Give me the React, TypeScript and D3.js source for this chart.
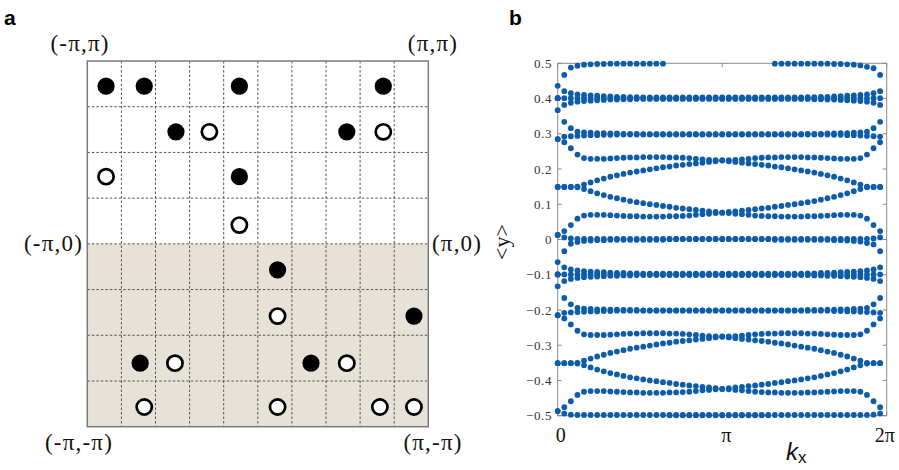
import React from "react";
import * as d3 from "d3";

// ---------- Panel a data (grid-cell units: col 0..10 from left, row 0..8 from top) ----------
const GRID_COLS = 10;
const GRID_ROWS = 8;
const FILLED_PTS: [number, number][] = [
  [0.55, 0.55], [1.67, 0.55], [4.46, 0.55], [8.68, 0.55],
  [2.6, 1.55], [7.61, 1.55],
  [4.46, 2.53],
  [5.58, 4.57],
  [9.58, 5.58],
  [1.55, 6.61], [6.56, 6.61],
];
const OPEN_PTS: [number, number][] = [
  [3.58, 1.55], [8.68, 1.55],
  [0.55, 2.53],
  [4.46, 3.59],
  [5.58, 5.58],
  [2.57, 6.61], [7.61, 6.61],
  [1.67, 7.57], [5.58, 7.57], [8.58, 7.57], [9.58, 7.57],
];
const CORNER_TL = "(-π,π)";
const CORNER_TR = "(π,π)";
const CORNER_ML = "(-π,0)";
const CORNER_MR = "(π,0)";
const CORNER_BL = "(-π,-π)";
const CORNER_BR = "(π,-π)";

// ---------- Panel b data ----------
const K_COUNT = 50; // k index 0..49 ; 50 == 2π
const X_TICKS = [0, 25, 50];
const X_TICK_LABELS = ["0", "π", "2π"];
const Y_TICKS = [0.5, 0.4, 0.3, 0.2, 0.1, 0, -0.1, -0.2, -0.3, -0.4, -0.5];

const A_UP = [
  0.436, 0.467, 0.488, 0.493, 0.496, 0.497, 0.498, 0.498, 0.499, 0.499,
  0.499, 0.499, 0.499, 0.499, 0.499, 0.499, 0.499, -0.499, -0.499, -0.499,
  -0.499, -0.499, -0.499, -0.499, -0.499, -0.499, -0.499, -0.499, -0.499, -0.499,
  -0.499, -0.499, -0.499, 0.499, 0.499, 0.499, 0.499, 0.499, 0.499, 0.499,
  0.499, 0.499, 0.498, 0.498, 0.497, 0.496, 0.494, 0.49, 0.486, 0.467,
];
const P1_UP = [
  0.401, 0.421, 0.415, 0.412, 0.41, 0.409, 0.408, 0.407, 0.406, 0.405,
  0.405, 0.404, 0.404, 0.403, 0.403, 0.403, 0.403, 0.403, 0.403, 0.403,
  0.403, 0.403, 0.403, 0.403, 0.403, 0.403, 0.403, 0.403, 0.403, 0.403,
  0.403, 0.403, 0.403, 0.403, 0.403, 0.403, 0.403, 0.403, 0.404, 0.404,
  0.405, 0.405, 0.406, 0.407, 0.408, 0.409, 0.41, 0.412, 0.415, 0.421,
];
const P2_UP = [
  0.401, 0.401, 0.401, 0.401, 0.401, 0.401, 0.401, 0.401, 0.401, 0.401,
  0.401, 0.401, 0.401, 0.401, 0.401, 0.401, 0.401, 0.401, 0.401, 0.401,
  0.401, 0.401, 0.401, 0.401, 0.401, 0.401, 0.401, 0.401, 0.401, 0.401,
  0.401, 0.401, 0.401, 0.401, 0.401, 0.401, 0.401, 0.401, 0.401, 0.401,
  0.401, 0.401, 0.401, 0.401, 0.401, 0.401, 0.401, 0.401, 0.401, 0.401,
];
const P3_UP = [
  0.401, 0.382, 0.388, 0.391, 0.393, 0.394, 0.395, 0.396, 0.397, 0.397,
  0.398, 0.398, 0.399, 0.399, 0.399, 0.399, 0.399, 0.399, 0.399, 0.399,
  0.399, 0.399, 0.399, 0.399, 0.399, 0.399, 0.399, 0.399, 0.399, 0.399,
  0.399, 0.399, 0.399, 0.399, 0.399, 0.399, 0.399, 0.399, 0.399, 0.398,
  0.398, 0.397, 0.397, 0.396, 0.395, 0.394, 0.393, 0.391, 0.388, 0.382,
];
const D_UP = [
  0.367, 0.334, 0.316, 0.306, 0.304, 0.303, 0.302, 0.302, 0.301, 0.301,
  0.3, 0.3, 0.3, 0.299, 0.299, 0.299, 0.299, 0.299, 0.299, 0.299,
  0.299, 0.299, 0.299, 0.299, 0.299, 0.299, 0.299, 0.299, 0.299, 0.299,
  0.299, 0.299, 0.299, 0.299, 0.299, 0.299, 0.299, 0.299, 0.3, 0.3,
  0.3, 0.301, 0.301, 0.302, 0.302, 0.303, 0.304, 0.306, 0.316, 0.334,
];
const Q_UP = [
  0.285, 0.292, 0.293, 0.294, 0.295, 0.296, 0.296, 0.297, 0.297, 0.298,
  0.298, 0.298, 0.298, 0.298, 0.298, 0.298, 0.298, 0.298, 0.298, 0.298,
  0.298, 0.298, 0.298, 0.298, 0.298, 0.298, 0.298, 0.298, 0.298, 0.298,
  0.298, 0.298, 0.298, 0.298, 0.298, 0.298, 0.298, 0.298, 0.298, 0.298,
  0.298, 0.298, 0.297, 0.297, 0.296, 0.296, 0.295, 0.294, 0.293, 0.292,
];
const C1_UP = [
  0.285, 0.276, 0.259, 0.241, 0.231, 0.229, 0.229, 0.229, 0.23, 0.231,
  0.232, 0.233, 0.233, 0.234, 0.234, 0.234, 0.234, 0.233, 0.233, 0.232,
  0.231, 0.229, 0.227, 0.226, 0.225, 0.225, 0.225, 0.226, 0.227, 0.229,
  0.231, 0.232, 0.233, 0.233, 0.234, 0.234, 0.234, 0.234, 0.233, 0.233,
  0.232, 0.231, 0.23, 0.229, 0.229, 0.229, 0.231, 0.241, 0.259, 0.276,
];
const R_UP = [
  0.149, 0.149, 0.149, 0.15, 0.156, 0.162, 0.168, 0.173, 0.178, 0.182,
  0.186, 0.19, 0.193, 0.196, 0.199, 0.202, 0.205, 0.207, 0.21, 0.212,
  0.214, 0.216, 0.218, 0.22, 0.222, 0.224, 0.222, 0.22, 0.218, 0.216,
  0.214, 0.212, 0.21, 0.207, 0.205, 0.202, 0.199, 0.196, 0.193, 0.19,
  0.186, 0.182, 0.178, 0.173, 0.168, 0.162, 0.156, 0.15, 0.149, 0.149,
];
const F_UP = [
  0.149, 0.149, 0.149, 0.148, 0.143, 0.137, 0.131, 0.126, 0.121, 0.117,
  0.113, 0.109, 0.106, 0.103, 0.1, 0.098, 0.095, 0.093, 0.09, 0.088,
  0.086, 0.084, 0.082, 0.08, 0.078, 0.076, 0.078, 0.08, 0.082, 0.084,
  0.086, 0.088, 0.09, 0.093, 0.095, 0.098, 0.1, 0.103, 0.106, 0.109,
  0.113, 0.117, 0.121, 0.126, 0.131, 0.137, 0.143, 0.148, 0.149, 0.149,
];
const C4_UP = [
  0.013, 0.024, 0.041, 0.059, 0.068, 0.07, 0.07, 0.07, 0.069, 0.068,
  0.067, 0.066, 0.066, 0.065, 0.065, 0.065, 0.065, 0.066, 0.066, 0.067,
  0.068, 0.07, 0.072, 0.073, 0.075, 0.076, 0.075, 0.073, 0.072, 0.07,
  0.068, 0.067, 0.066, 0.066, 0.065, 0.065, 0.065, 0.065, 0.066, 0.066,
  0.067, 0.068, 0.069, 0.07, 0.07, 0.07, 0.068, 0.059, 0.041, 0.024,
];
const Z_UP = [
  0.013, 0.006, 0.003, 0.002, 0.002, 0.002, 0.002, 0.002, 0.002, 0.002,
  0.002, 0.002, 0.002, 0.002, 0.002, 0.002, 0.002, 0.002, 0.002, 0.002,
  0.002, 0.002, 0.002, 0.002, 0.002, 0.002, 0.002, 0.002, 0.002, 0.002,
  0.002, 0.002, 0.002, 0.002, 0.002, 0.002, 0.002, 0.002, 0.002, 0.002,
  0.002, 0.002, 0.002, 0.002, 0.002, 0.002, 0.002, 0.002, 0.003, 0.006,
];

const A_LO = [
  -0.064, -0.033, -0.012, -0.007, -0.004, -0.003, -0.002, -0.002, -0.001, -0.001,
  -0.001, -0.001, -0.001, -0.001, -0.001, -0.001, -0.001, 0.001, 0.001, 0.001,
  0.001, 0.001, 0.001, 0.001, 0.001, 0.001, 0.001, 0.001, 0.001, 0.001,
  0.001, 0.001, 0.001, -0.001, -0.001, -0.001, -0.001, -0.001, -0.001, -0.001,
  -0.001, -0.001, -0.002, -0.002, -0.003, -0.004, -0.006, -0.01, -0.014, -0.033,
];
const P1_LO = [
  -0.099, -0.079, -0.085, -0.088, -0.09, -0.091, -0.092, -0.093, -0.094, -0.095,
  -0.095, -0.096, -0.096, -0.097, -0.097, -0.097, -0.097, -0.097, -0.097, -0.097,
  -0.097, -0.097, -0.097, -0.097, -0.097, -0.097, -0.097, -0.097, -0.097, -0.097,
  -0.097, -0.097, -0.097, -0.097, -0.097, -0.097, -0.097, -0.097, -0.096, -0.096,
  -0.095, -0.095, -0.094, -0.093, -0.092, -0.091, -0.09, -0.088, -0.085, -0.079,
];
const P2_LO = [
  -0.099, -0.099, -0.099, -0.099, -0.099, -0.099, -0.099, -0.099, -0.099, -0.099,
  -0.099, -0.099, -0.099, -0.099, -0.099, -0.099, -0.099, -0.099, -0.099, -0.099,
  -0.099, -0.099, -0.099, -0.099, -0.099, -0.099, -0.099, -0.099, -0.099, -0.099,
  -0.099, -0.099, -0.099, -0.099, -0.099, -0.099, -0.099, -0.099, -0.099, -0.099,
  -0.099, -0.099, -0.099, -0.099, -0.099, -0.099, -0.099, -0.099, -0.099, -0.099,
];
const P3_LO = [
  -0.099, -0.118, -0.112, -0.109, -0.107, -0.106, -0.105, -0.104, -0.103, -0.103,
  -0.102, -0.102, -0.101, -0.101, -0.101, -0.101, -0.101, -0.101, -0.101, -0.101,
  -0.101, -0.101, -0.101, -0.101, -0.101, -0.101, -0.101, -0.101, -0.101, -0.101,
  -0.101, -0.101, -0.101, -0.101, -0.101, -0.101, -0.101, -0.101, -0.101, -0.102,
  -0.102, -0.103, -0.103, -0.104, -0.105, -0.106, -0.107, -0.109, -0.112, -0.118,
];
const D_LO = [
  -0.133, -0.166, -0.184, -0.194, -0.196, -0.197, -0.198, -0.198, -0.199, -0.199,
  -0.2, -0.2, -0.2, -0.201, -0.201, -0.201, -0.201, -0.201, -0.201, -0.201,
  -0.201, -0.201, -0.201, -0.201, -0.201, -0.201, -0.201, -0.201, -0.201, -0.201,
  -0.201, -0.201, -0.201, -0.201, -0.201, -0.201, -0.201, -0.201, -0.2, -0.2,
  -0.2, -0.199, -0.199, -0.198, -0.198, -0.197, -0.196, -0.194, -0.184, -0.166,
];
const Q_LO = [
  -0.215, -0.208, -0.207, -0.206, -0.205, -0.204, -0.204, -0.203, -0.203, -0.202,
  -0.202, -0.202, -0.202, -0.202, -0.202, -0.202, -0.202, -0.202, -0.202, -0.202,
  -0.202, -0.202, -0.202, -0.202, -0.202, -0.202, -0.202, -0.202, -0.202, -0.202,
  -0.202, -0.202, -0.202, -0.202, -0.202, -0.202, -0.202, -0.202, -0.202, -0.202,
  -0.202, -0.202, -0.203, -0.203, -0.204, -0.204, -0.205, -0.206, -0.207, -0.208,
];
const C1_LO = [
  -0.215, -0.224, -0.241, -0.259, -0.269, -0.271, -0.271, -0.271, -0.27, -0.269,
  -0.268, -0.267, -0.267, -0.266, -0.266, -0.266, -0.266, -0.267, -0.267, -0.268,
  -0.269, -0.271, -0.273, -0.274, -0.275, -0.275, -0.275, -0.274, -0.273, -0.271,
  -0.269, -0.268, -0.267, -0.267, -0.266, -0.266, -0.266, -0.266, -0.267, -0.267,
  -0.268, -0.269, -0.27, -0.271, -0.271, -0.271, -0.269, -0.259, -0.241, -0.224,
];
const R_LO = [
  -0.351, -0.351, -0.351, -0.35, -0.344, -0.338, -0.332, -0.327, -0.322, -0.318,
  -0.314, -0.31, -0.307, -0.304, -0.301, -0.298, -0.295, -0.293, -0.29, -0.288,
  -0.286, -0.284, -0.282, -0.28, -0.278, -0.276, -0.278, -0.28, -0.282, -0.284,
  -0.286, -0.288, -0.29, -0.293, -0.295, -0.298, -0.301, -0.304, -0.307, -0.31,
  -0.314, -0.318, -0.322, -0.327, -0.332, -0.338, -0.344, -0.35, -0.351, -0.351,
];
const F_LO = [
  -0.351, -0.351, -0.351, -0.352, -0.357, -0.363, -0.369, -0.374, -0.379, -0.383,
  -0.387, -0.391, -0.394, -0.397, -0.4, -0.402, -0.405, -0.407, -0.41, -0.412,
  -0.414, -0.416, -0.418, -0.42, -0.422, -0.424, -0.422, -0.42, -0.418, -0.416,
  -0.414, -0.412, -0.41, -0.407, -0.405, -0.402, -0.4, -0.397, -0.394, -0.391,
  -0.387, -0.383, -0.379, -0.374, -0.369, -0.363, -0.357, -0.352, -0.351, -0.351,
];
const C4_LO = [
  -0.487, -0.476, -0.459, -0.441, -0.432, -0.43, -0.43, -0.43, -0.431, -0.432,
  -0.433, -0.434, -0.434, -0.435, -0.435, -0.435, -0.435, -0.434, -0.434, -0.433,
  -0.432, -0.43, -0.428, -0.427, -0.425, -0.424, -0.425, -0.427, -0.428, -0.43,
  -0.432, -0.433, -0.434, -0.434, -0.435, -0.435, -0.435, -0.435, -0.434, -0.434,
  -0.433, -0.432, -0.431, -0.43, -0.43, -0.43, -0.432, -0.441, -0.459, -0.476,
];
const Z_LO = [
  -0.487, -0.494, -0.497, -0.498, -0.498, -0.498, -0.498, -0.498, -0.498, -0.498,
  -0.498, -0.498, -0.498, -0.498, -0.498, -0.498, -0.498, -0.498, -0.498, -0.498,
  -0.498, -0.498, -0.498, -0.498, -0.498, -0.498, -0.498, -0.498, -0.498, -0.498,
  -0.498, -0.498, -0.498, -0.498, -0.498, -0.498, -0.498, -0.498, -0.498, -0.498,
  -0.498, -0.498, -0.498, -0.498, -0.498, -0.498, -0.498, -0.498, -0.497, -0.494,
];

const BANDS = [
  A_UP, P1_UP, P2_UP, P3_UP, D_UP, Q_UP, C1_UP, R_UP, F_UP, C4_UP, Z_UP,
  A_LO, P1_LO, P2_LO, P3_LO, D_LO, Q_LO, C1_LO, R_LO, F_LO, C4_LO, Z_LO,
];

const SERIF = "'Liberation Serif', 'DejaVu Serif', serif";
const SANS = "'Liberation Sans', Arial, sans-serif";
const DOT = "#0d5cab";

function fmtTick(v: number): string {
  if (v === 0) return "0";
  const s = Math.abs(v).toFixed(1);
  return v < 0 ? "\u2212" + s : s;
}

export default function App() {
  // Panel a geometry
  const ax0 = 87.3, ax1 = 428.3, ay0 = 61, ay1 = 426.7;
  const gx = d3.scaleLinear().domain([0, GRID_COLS]).range([ax0, ax1]);
  const gy = d3.scaleLinear().domain([0, GRID_ROWS]).range([ay0, ay1]);

  // Panel b geometry
  const bx0 = 557.7, bx1 = 886.7, byTop = 63.3, byBot = 415.7;
  const kx = d3.scaleLinear().domain([0, K_COUNT]).range([bx0, bx1]);
  const yy = d3.scaleLinear().domain([-0.5, 0.5]).range([byBot, byTop]);

  const points: { x: number; y: number }[] = [];
  BANDS.forEach((band) => band.forEach((v, i) => points.push({ x: kx(i), y: yy(v) })));

  const axisColor = "#8a8a8a";
  const tickLen = 4;

  return (
    <svg width={899} height={470} style={{ position: "absolute", left: 0, top: 0, background: "#fff" }}>
      <rect x={0} y={0} width={899} height={470} fill="#fff" />
      {/* ---------- Panel a ---------- */}
      <text x={4} y={25} fontFamily={SANS} fontWeight="bold" fontSize={21} fill="#000">a</text>
      <rect x={ax0} y={gy(GRID_ROWS / 2)} width={ax1 - ax0} height={ay1 - gy(GRID_ROWS / 2)} fill="#e6e2d8" />
      {d3.range(1, GRID_COLS).map((c) => (
        <line key={"vc" + c} x1={gx(c)} x2={gx(c)} y1={ay0} y2={ay1} stroke="#555" strokeWidth={1} strokeDasharray="2.5,2" />
      ))}
      {d3.range(1, GRID_ROWS).map((r) => (
        <line key={"hr" + r} x1={ax0} x2={ax1} y1={gy(r)} y2={gy(r)} stroke="#555" strokeWidth={1} strokeDasharray="2.5,2" />
      ))}
      <rect x={ax0} y={ay0} width={ax1 - ax0} height={ay1 - ay0} fill="none" stroke="#7a7a7a" strokeWidth={1.5} />
      {FILLED_PTS.map(([c, r], i) => (
        <circle key={"f" + i} cx={gx(c)} cy={gy(r)} r={8.6} fill="#000" />
      ))}
      {OPEN_PTS.map(([c, r], i) => (
        <circle key={"o" + i} cx={gx(c)} cy={gy(r)} r={7.6} fill="#fff" stroke="#000" strokeWidth={2.7} />
      ))}
      <g fontFamily={SERIF} fontSize={23} fill="#111" letterSpacing={1.2}>
        <text x={80} y={51} textAnchor="middle">{CORNER_TL}</text>
        <text x={433} y={51} textAnchor="middle">{CORNER_TR}</text>
        <text x={83} y={251} textAnchor="end">{CORNER_ML}</text>
        <text x={432} y={251} textAnchor="start">{CORNER_MR}</text>
        <text x={79} y={450} textAnchor="middle">{CORNER_BL}</text>
        <text x={433} y={450} textAnchor="middle">{CORNER_BR}</text>
      </g>

      {/* ---------- Panel b ---------- */}
      <text x={509} y={25} fontFamily={SANS} fontWeight="bold" fontSize={21} fill="#000">b</text>
      <rect x={bx0} y={byTop} width={bx1 - bx0} height={byBot - byTop} fill="none" stroke={axisColor} strokeWidth={1} />
      {Y_TICKS.map((t) => (
        <g key={"yt" + t}>
          <line x1={bx0} x2={bx0 + tickLen} y1={yy(t)} y2={yy(t)} stroke={axisColor} />
          <line x1={bx1} x2={bx1 - tickLen} y1={yy(t)} y2={yy(t)} stroke={axisColor} />
          <text x={552} y={yy(t)} dy="0.35em" textAnchor="end" fontFamily={SERIF} fontSize={13} letterSpacing={0.6} fill="#333">{fmtTick(t)}</text>
        </g>
      ))}
      {X_TICKS.map((t, i) => (
        <g key={"xt" + t}>
          <line x1={kx(t)} x2={kx(t)} y1={byTop} y2={byTop + tickLen} stroke={axisColor} />
          <line x1={kx(t)} x2={kx(t)} y1={byBot} y2={byBot - tickLen} stroke={axisColor} />
          <text x={kx(t) + (i === 0 ? 3 : i === 1 ? 4 : -2)} y={442} textAnchor="middle" fontFamily={SERIF} fontSize={20} fill="#111">{X_TICK_LABELS[i]}</text>
        </g>
      ))}
      {points.map((p, i) => (
        <circle key={"p" + i} cx={p.x} cy={p.y} r={2.9} fill={DOT} />
      ))}
      <text x={786} y={460} fontFamily={SANS} fontStyle="italic" fontSize={24} fill="#111">
        k<tspan fontStyle="normal" fontSize={17} dy={3}>x</tspan>
      </text>
      <text transform="translate(509,242) rotate(-90)" textAnchor="middle" fontFamily={SERIF} fontSize={22} fill="#111">&lt;y&gt;</text>
    </svg>
  );
}
